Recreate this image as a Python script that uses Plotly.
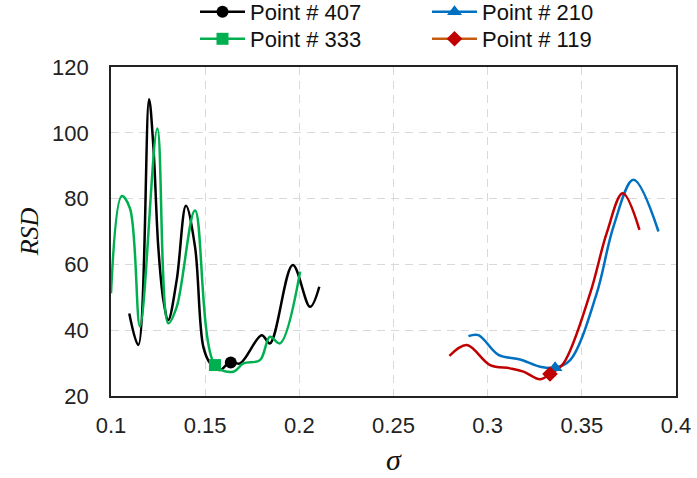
import plotly.graph_objects as go

# ---- data ----
p407_x = [0.1097, 0.1145, 0.1202, 0.1225, 0.1251, 0.1278, 0.1304, 0.1349, 0.1398, 0.1446,
          0.1490, 0.1526, 0.1579, 0.1632, 0.1685, 0.1800, 0.1844, 0.1965, 0.2057, 0.2106]
p407_y = [45.1, 35.5, 110.2, 95.8, 65.4, 49.2, 43.1, 55.3, 77.8, 65.4,
          35.0, 30.0, 27.9, 30.4, 29.9, 38.5, 36.0, 59.8, 47.1, 53.2]

p333_x = [0.1000, 0.1057, 0.1101, 0.1154, 0.1246, 0.1304, 0.1349, 0.1446, 0.1552,
          0.1650, 0.1703, 0.1791, 0.1844, 0.1897, 0.2004]
p333_y = [51.2, 80.8, 77.0, 41.1, 101.3, 42.1, 47.1, 76.4, 29.4,
          27.4, 29.9, 30.9, 38.0, 36.0, 57.8]

p210_x = [0.2898, 0.2951, 0.3057, 0.3172, 0.3278, 0.3358, 0.3438, 0.3579, 0.3668, 0.3774, 0.3907]
p210_y = [38.2, 38.5, 32.5, 31.1, 28.9, 28.6, 30.9, 51.2, 71.5, 85.7, 70.0]

p119_x = [0.2797, 0.2889, 0.3013, 0.3119, 0.3190, 0.3278, 0.3331, 0.3402, 0.3544, 0.3632, 0.3717, 0.3806]
p119_y = [32.2, 35.5, 29.4, 28.4, 27.4, 25.1, 26.7, 29.9, 51.2, 69.5, 81.6, 70.5]

# highlighted points
mark_x = {"407": 0.1636, "333": 0.1552, "210": 0.3358, "119": 0.3331}
mark_y = {"407": 30.2, "333": 29.4, "210": 28.6, "119": 26.7}

x_ticks = [0.1, 0.15, 0.2, 0.25, 0.3, 0.35, 0.4]
x_tick_labels = ["0.1", "0.15", "0.2", "0.25", "0.3", "0.35", "0.4"]
y_ticks = [20, 40, 60, 80, 100, 120]

# name, x, y, line colour, legend line colour, symbol, legend id (row)
series = [
    ("407", p407_x, p407_y, "#000000", "#000000", "circle", "legend"),
    ("210", p210_x, p210_y, "#0070C0", "#0070C0", "triangle-up", "legend"),
    ("333", p333_x, p333_y, "#00B050", "#00B050", "square", "legend2"),
    ("119", p119_x, p119_y, "#C00000", "#C55A11", "diamond", "legend2"),
]

fig = go.Figure()
for name, xs, ys, col, legcol, sym, leg in series:
    fig.add_trace(go.Scatter(
        x=xs, y=ys, mode="lines", line=dict(color=col, width=2.5, shape="spline", smoothing=1.0),
        showlegend=False, legendgroup=name, hoverinfo="skip"))
for name, xs, ys, col, legcol, sym, leg in series:
    fig.add_trace(go.Scatter(
        x=[mark_x[name]], y=[mark_y[name]], mode="lines+markers",
        name="Point # " + name, legendgroup=name, legend=leg,
        line=dict(color=legcol, width=2.5),
        marker=dict(symbol=sym, color=col, size=12 if sym != "triangle-up" else 13)))

sans = "Liberation Sans, Arial, sans-serif"
serif = "Liberation Serif, Times New Roman, serif"

leg_common = dict(orientation="h", xref="paper", yref="paper",
                  xanchor="left", yanchor="top", entrywidth=172, entrywidthmode="pixels",
                  font=dict(family=sans, size=22, color="#111111"), itemwidth=45,
                  bgcolor="rgba(0,0,0,0)", tracegroupgap=0)

fig.update_layout(
    width=697, height=478,
    margin=dict(l=111, r=21, t=67, b=82, autoexpand=False),
    plot_bgcolor="white", paper_bgcolor="white",
    font=dict(family=sans, size=22, color="#222222"),
    legend=dict(x=(195 - 111) / 565, y=1 + (67 + 9) / 329, **leg_common),
    legend2=dict(x=(195 - 111) / 565, y=1 + (67 - 18) / 329, **leg_common),
    xaxis=dict(range=[0.1, 0.4], tickvals=x_ticks, ticktext=x_tick_labels,
               showgrid=True, gridcolor="#d9d9d9", griddash="8px,6px", gridwidth=1.2,
               showline=True, linecolor="#222222", linewidth=1.6, mirror=True,
               zeroline=False, ticks="", ticklabelstandoff=9, automargin=False,
               title=dict(text="<i>σ</i>", font=dict(family=serif, size=30, color="#111111"), standoff=12)),
    yaxis=dict(range=[20, 120], tickvals=y_ticks,
               showgrid=True, gridcolor="#d9d9d9", griddash="8px,6px", gridwidth=1.2,
               showline=True, linecolor="#222222", linewidth=1.6, mirror=True,
               zeroline=False, ticks="", ticklabelstandoff=16, automargin=False,
               title=dict(text="<i>RSD</i>", font=dict(family=serif, size=26, color="#111111"), standoff=6)),
)

fig.write_html("out.html", config={"displayModeBar": False},
               post_script="document.body.style.margin='0px';document.body.style.padding='0px';")
